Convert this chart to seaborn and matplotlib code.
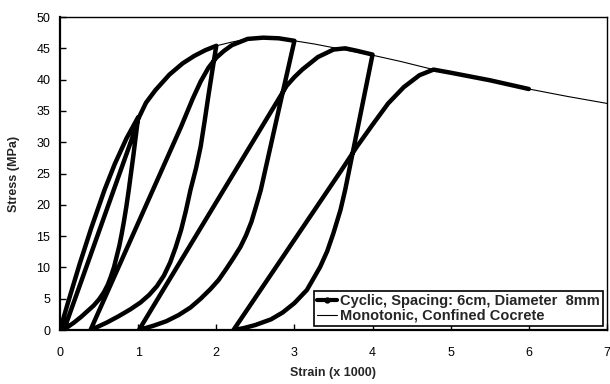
import matplotlib.pyplot as plt
import pandas as pd
import seaborn as sns
from matplotlib.lines import Line2D

# monotonic envelope (thin line)
mono_strain = [0, 0.1, 0.25, 0.4, 0.57, 0.7, 0.85, 1.0, 1.22, 1.4, 1.57, 1.72, 1.86,
               2.0, 2.2, 2.4, 2.6, 2.8, 3.0, 3.25, 3.5, 3.75, 4.0, 4.36, 4.78, 5.0,
               5.5, 6.0, 6.5, 7.0, 7.2]
mono_stress = [0, 4.3, 10.5, 16.3, 22.4, 26.5, 30.6, 34.0, 38.3, 40.8, 42.6, 43.8, 44.7,
               45.4, 46.0, 46.5, 46.7, 46.6, 46.2, 45.7, 45.1, 44.5, 43.9, 42.9, 41.6, 41.1,
               39.8, 38.5, 37.3, 36.2, 35.7]

# cyclic test path, in loading order
cyc_strain = [
    # first loading
    0, 0.1, 0.25, 0.4, 0.57, 0.7, 0.85, 1.0,
    # unload 1
    0.97, 0.94, 0.91, 0.88, 0.85, 0.82, 0.79, 0.76, 0.72, 0.69, 0.65, 0.61, 0.56,
    0.5, 0.43, 0.35, 0.27, 0.18, 0.1, 0.05,
    # reload 1
    0.95, 1.0, 1.1, 1.22, 1.4, 1.57, 1.72, 1.86, 2.0,
    # unload 2
    1.95, 1.90, 1.85, 1.80, 1.74, 1.67, 1.61, 1.55, 1.48, 1.41, 1.33, 1.24, 1.14,
    1.03, 0.9, 0.75, 0.6, 0.48, 0.39,
    # reload 2
    1.55, 1.70, 1.80, 1.9, 2.0, 2.1, 2.2, 2.4, 2.6, 2.8, 3.0,
    # unload 3
    2.8, 2.57, 2.51, 2.45, 2.38, 2.31, 2.22, 2.13, 2.03, 1.93, 1.8, 1.67, 1.52,
    1.36, 1.2, 1.01,
    # reload 3
    2.9, 3.0, 3.1, 3.3, 3.5, 3.65, 3.8, 4.0,
    # unload 4
    3.65, 3.59, 3.5, 3.42, 3.33, 3.16, 3.0, 2.85, 2.7, 2.5, 2.35, 2.22,
    # reload 4 and post-peak
    3.6, 3.8, 4.0, 4.2, 4.4, 4.6, 4.78, 5.0, 5.5, 6.0,
]
cyc_stress = [
    0, 4.3, 10.5, 16.3, 22.4, 26.5, 30.6, 34.0,
    31.0, 28.0, 25.2, 22.4, 19.8, 17.5, 15.4, 13.5, 11.5, 10.0, 8.5, 7.2, 6.0,
    4.9, 3.9, 3.0, 2.1, 1.2, 0.5, 0,
    31.6, 33.7, 36.3, 38.3, 40.8, 42.6, 43.8, 44.7, 45.4,
    41.5, 37.5, 33.3, 29.3, 25.8, 22.4, 19.0, 16.0, 13.2, 10.8, 8.7, 7.0, 5.6,
    4.4, 3.3, 2.2, 1.2, 0.5, 0,
    32.5, 37.0, 39.7, 41.9, 43.5, 44.6, 45.5, 46.5, 46.7, 46.6, 46.2,
    35.2, 22.4, 19.8, 17.3, 15.1, 13.3, 11.5, 9.8, 8.0, 6.6, 5.0, 3.6, 2.4,
    1.4, 0.7, 0,
    39.0, 40.4, 41.6, 43.6, 44.8, 45.0, 44.6, 44.0,
    22.4, 19.2, 15.5, 12.6, 10.1, 6.4, 4.3, 2.8, 1.7, 0.8, 0.3, 0,
    25.5, 29.3, 32.8, 36.2, 38.8, 40.7, 41.6, 41.1, 39.9, 38.5,
]

x_ticks = [0, 1, 2, 3, 4, 5, 6, 7]
y_ticks = [0, 5, 10, 15, 20, 25, 30, 35, 40, 45, 50]

sns.set_style("white")
plt.rcParams["font.family"] = ["Liberation Sans", "DejaVu Sans"]

fig = plt.figure(figsize=(6.1, 3.84), dpi=100)
ax = fig.add_axes([0.0984, 0.1406, 0.8966, 0.8151])

df_cyc = pd.DataFrame({"strain": cyc_strain, "stress": cyc_stress})
df_mono = pd.DataFrame({"strain": mono_strain, "stress": mono_stress})

sns.lineplot(data=df_mono, x="strain", y="stress", sort=False, estimator=None,
             color="black", linewidth=0.8, ax=ax, zorder=2)
sns.lineplot(data=df_cyc, x="strain", y="stress", sort=False, estimator=None,
             color="black", linewidth=3.2, ax=ax, zorder=3,
             solid_joinstyle="round", solid_capstyle="round")

ax.set_xlim(0, 7)
ax.set_ylim(0, 50)
ax.set_xticks(x_ticks)
ax.set_yticks(y_ticks)
ax.tick_params(bottom=True, left=True, direction="in", length=4, width=1,
               labelsize=9, colors="black")
ax.tick_params(axis="x", pad=12)
ax.tick_params(axis="y", pad=7)
for s in ax.spines.values():
    s.set_visible(True)
    s.set_color("black")
    s.set_linewidth(1.0)
ax.spines["left"].set_linewidth(1.6)
ax.spines["bottom"].set_linewidth(1.6)

ax.set_xlabel("Strain (x 1000)", fontsize=9, fontweight="bold", labelpad=6)
ax.set_ylabel("Stress (MPa)", fontsize=9, fontweight="bold", labelpad=12)

handles = [
    Line2D([], [], color="black", linewidth=3, marker="o", markersize=3.5),
    Line2D([], [], color="black", linewidth=0.8),
]
labels = ["Cyclic, Spacing: 6cm, Diameter  8mm", "Monotonic, Confined Cocrete"]
leg = ax.legend(handles, labels, loc="lower right", fancybox=False, framealpha=1,
                edgecolor="black", prop={"size": 10.5, "weight": "bold"},
                handlelength=1.4, handletextpad=0.2, borderpad=0.2,
                labelspacing=0.05, borderaxespad=0.3)
leg.get_frame().set_linewidth(1.2)

plt.savefig("out.png", dpi=100)
plt.close()
